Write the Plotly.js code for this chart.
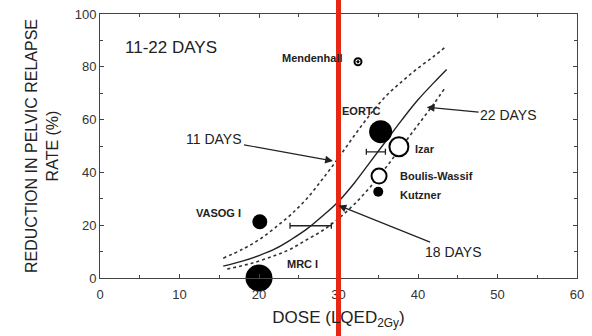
<!DOCTYPE html>
<html>
<head>
<meta charset="utf-8">
<script src="https://cdn.plot.ly/plotly-3.0.1.min.js"></script>
<style>
  html, body { margin: 0; padding: 0; background: #fff; }
  #chart { width: 592px; height: 336px; }
</style>
</head>
<body>
<div id="chart"></div>
<script>
// Dose-response curves (reduction in pelvic relapse rate vs LQED 2Gy dose)
const dose18 = [15.5, 18, 20, 22, 24, 26, 28, 30, 32, 34, 36, 38, 40, 42, 43.6];
const rate18 = [4.5, 6.5, 8.5, 11, 14.5, 18.5, 23.5, 29, 36, 44, 52, 60, 67.5, 74, 79];

const dose11 = [15.5, 18, 20, 22, 24, 26, 28, 30, 32, 34, 36, 38, 40, 42, 43.5];
const rate11 = [7.5, 11, 14.5, 19, 24, 30, 37.5, 45.5, 54, 62, 69, 74.5, 79.5, 84, 87.6];

const dose22 = [16, 19, 22, 24, 26, 28, 30, 32, 34, 36, 38, 40, 42, 43.4];
const rate22 = [3.4, 5.5, 8.5, 11, 14.5, 18, 22.5, 28, 34.5, 42, 50, 58, 66, 72];

// Trial results
const filledTrials = ["EORTC", "Kutzner", "VASOG I", "MRC I"];
const filledDose = [35.3, 35.0, 20.1, 20.0];
const filledRate = [55.4, 32.7, 21.3, 0];
const filledSize = [23, 10, 15, 27];

const openTrials = ["Izar", "Boulis-Wassif"];
const openDose = [37.6, 35.1];
const openRate = [49.7, 38.6];
const openSize = [19, 15];

const smallTrials = ["Mendenhall"];
const smallDose = [32.45];
const smallRate = [81.9];

// Dose ranges (horizontal bars)
const rangeCenter = [26.5, 34.7];
const rangeRate = [19.8, 47.8];
const rangeHalf = [2.6, 1.2];

// Reference dose marker
const markDose = 30;

const labelFont = {family: "Liberation Sans Narrow, Liberation Sans, Arial, sans-serif", size: 11, color: "#222", weight: "bold"};
const arrowFont = {family: "Liberation Sans, Arial, sans-serif", size: 14, color: "#222"};

const traces = [
  {x: dose11, y: rate11, mode: "lines", line: {shape: "spline", color: "#333", width: 1.6, dash: "dot"}, hoverinfo: "skip"},
  {x: dose22, y: rate22, mode: "lines", line: {shape: "spline", color: "#333", width: 1.6, dash: "dot"}, hoverinfo: "skip"},
  {x: dose18, y: rate18, mode: "lines", line: {shape: "spline", color: "#222", width: 1.4}, hoverinfo: "skip"},
  {x: rangeCenter, y: rangeRate, mode: "markers", marker: {size: 1, color: "rgba(0,0,0,0)"},
   error_x: {type: "data", array: rangeHalf, symmetric: true, color: "#222", thickness: 1.3, width: 3}},
  {x: filledDose, y: filledRate, name: "filled", mode: "markers",
   marker: {size: filledSize, color: "#000", opacity: 1, line: {width: 0}}, cliponaxis: false},
  {x: openDose, y: openRate, name: "open", mode: "markers",
   marker: {size: openSize, color: "#fff", opacity: 1, line: {width: 2, color: "#000"}}, cliponaxis: false},
  {x: smallDose, y: smallRate, name: "small", mode: "markers",
   marker: {size: 7, symbol: "circle-dot", color: "#fff", opacity: 1, line: {width: 2, color: "#000"}}}
];

function label(text, x, y, anchor) {
  return {text: text, x: x, y: y, xref: "x", yref: "y", xanchor: anchor, yanchor: "middle",
          showarrow: false, font: labelFont};
}
function pointer(text, tipX, tipY, textX, textY) {
  return {text: text, x: tipX, y: tipY, ax: textX, ay: textY, xref: "x", yref: "y",
          axref: "x", ayref: "y", showarrow: true, arrowhead: 2, arrowsize: 1.3,
          arrowwidth: 1.2, arrowcolor: "#222", font: arrowFont, standoff: 0};
}

const layout = {
  width: 592, height: 336,
  margin: {l: 100, r: 15, t: 14, b: 58},
  paper_bgcolor: "#fff", plot_bgcolor: "#fff",
  showlegend: false,
  font: {family: "Liberation Sans, Arial, sans-serif", color: "#333"},
  xaxis: {
    range: [0, 60], dtick: 10, showgrid: false, zeroline: false,
    showline: true, linecolor: "#444", linewidth: 1, mirror: "ticks",
    ticks: "inside", ticklen: 4, tickcolor: "#444",
    minor: {dtick: 5, ticks: "inside", ticklen: 3, tickcolor: "#444"},
    tickfont: {size: 13, color: "#333"}, ticklabelstandoff: 4,
    title: {text: "DOSE (LQED<sub>2Gy</sub>)", font: {size: 17, color: "#222"}, standoff: 10}
  },
  yaxis: {
    range: [0, 100], dtick: 20, showgrid: false, zeroline: false,
    showline: true, linecolor: "#444", linewidth: 1, mirror: "ticks",
    ticks: "inside", ticklen: 4, tickcolor: "#444",
    minor: {dtick: 10, ticks: "inside", ticklen: 3, tickcolor: "#444"},
    tickfont: {size: 13, color: "#333"},
    title: {text: "REDUCTION IN PELVIC RELAPSE<br>RATE (%)", font: {size: 16, color: "#222"}, standoff: 12}
  },
  annotations: [
    {text: "11-22 DAYS", x: 2.9, y: 87.5, xref: "x", yref: "y", xanchor: "left", yanchor: "middle",
     showarrow: false, font: {family: "Liberation Sans, Arial, sans-serif", size: 17, color: "#222"}},
    label("Mendenhall", 30.8, 83.4, "right"),
    label("EORTC", 30.2, 63.3, "left"),
    label("Izar", 39.4, 48.9, "left"),
    label("Boulis-Wassif", 37.5, 38.7, "left"),
    label("Kutzner", 37.5, 31.3, "left"),
    label("VASOG I", 18.0, 24.6, "right"),
    label("MRC I", 23.3, 5.3, "left"),
    pointer("11 DAYS", 29.3, 44.3, 14.4, 52.5),
    pointer("22 DAYS", 41.1, 64.7, 51.4, 61.7),
    pointer("18 DAYS", 30.0, 27.5, 44.5, 10.0)
  ],
  shapes: [
    {type: "line", xref: "x", yref: "paper", x0: markDose, x1: markDose, y0: -0.25, y1: 1.1,
     line: {color: "rgb(232,38,20)", width: 5}, layer: "above"}
  ]
};

Plotly.newPlot("chart", traces, layout, {staticPlot: true, displayModeBar: false});
</script>
</body>
</html>
